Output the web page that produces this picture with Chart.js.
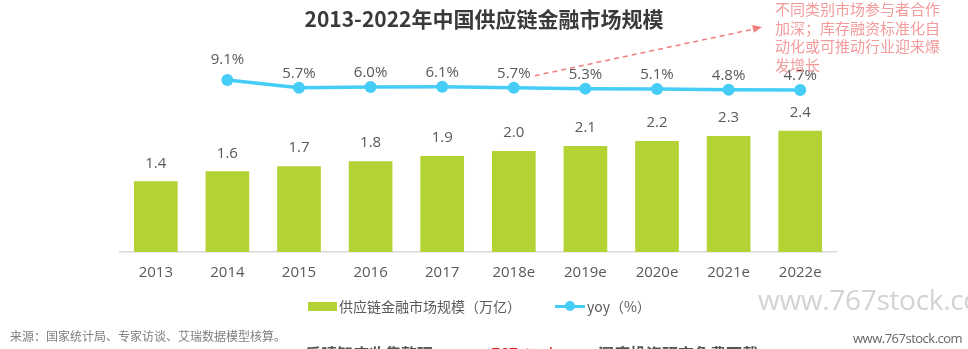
<!DOCTYPE html>
<html>
<head>
<meta charset="utf-8">
<script src="https://cdn.jsdelivr.net/npm/chart.js@4.4.1/dist/chart.umd.min.js"></script>
<style>
  body { margin: 0; width: 968px; height: 349px; overflow: hidden; background: #fff; position: relative;
         font-family: "Open Sans", "Noto Sans CJK SC", sans-serif; }
  #chart { position: absolute; left: 0; top: 0; }
  .abs { position: absolute; white-space: nowrap; }
  #title { left: 0; width: 968px; top: 4px; text-align: center; font-size: 21px; font-weight: bold; color: #3a3a3a;
           font-family: "Noto Sans CJK SC", sans-serif; line-height: 28px; }
  #note { left: 775px; top: 0px; font-size: 15px; line-height: 18.5px; color: #f39b9b; white-space: normal; width: 175px;
          font-family: "Noto Sans CJK SC", sans-serif; }
  .legend { top: 296px; font-size: 14px; color: #595959; line-height: 20px; font-family: "Noto Sans CJK SC", sans-serif; }
  #source { left: 10px; top: 327px; font-size: 12px; color: #7f7f7f; font-family: "Noto Sans CJK SC", sans-serif; }
  #wm1 { left: 758px; top: 280px; font-size: 28px; color: #d3d3d3; font-family: "Open Sans", sans-serif; letter-spacing: -0.3px; }
  #wm2 { left: 853px; top: 329px; font-size: 13px; color: #666; font-family: "Open Sans", sans-serif; letter-spacing: -0.5px; }
  #foot { left: 305px; top: 341px; font-size: 16px; font-weight: bold; color: #555; font-family: "Noto Sans CJK SC", sans-serif; }
  #foot span { color: #e02020; font-weight: normal; }
</style>
</head>
<body>
<canvas id="chart" width="968" height="349"></canvas>
<div id="title" class="abs">2013-2022年中国供应链金融市场规模</div>
<div id="note" class="abs">不同类别市场参与者合作加深；库存融资标准化自动化或可推动行业迎来爆发增长</div>

<div class="abs" style="left:308px;top:302px;width:29px;height:9px;background:#b3d334;"></div>
<div class="abs legend" style="left:339px;">供应链金融市场规模（万亿）</div>
<div class="abs" style="left:555px;top:304.5px;width:30px;height:3px;background:#45cdf7;"></div>
<div class="abs" style="left:565px;top:301px;width:10px;height:10px;border-radius:50%;background:#45cdf7;"></div>
<div class="abs legend" style="left:587px;">yoy（%）</div>

<div id="source" class="abs">来源：国家统计局、专家访谈、艾瑞数据模型核算。</div>
<div id="wm1" class="abs">www.767stock.com</div>
<div id="wm2" class="abs">www.767stock.com</div>
<div id="foot" class="abs">乐晴智库收集整理：<span>www.767stock.com</span> 深度投资研究免费下载</div>

<script>
// =========================
// données
// =========================
const years = ["2013", "2014", "2015", "2016", "2017", "2018e", "2019e", "2020e", "2021e", "2022e"];
const marketSize = [1.4, 1.6, 1.7, 1.8, 1.9, 2.0, 2.1, 2.2, 2.3, 2.4];
const yoy = [null, 9.1, 5.7, 6.0, 6.1, 5.7, 5.3, 5.1, 4.8, 4.7];

const GREEN = "#b3d334";
const BLUE = "#45cdf7";
const LABEL = "#595959";

// étiquettes de valeurs + flèche d'annotation
const labelsPlugin = {
  id: "valueLabels",
  afterDatasetsDraw(chart) {
    const ctx = chart.ctx;
    ctx.save();
    ctx.font = '15px "Open Sans", sans-serif';
    ctx.fillStyle = LABEL;
    ctx.textAlign = "center";
    ctx.textBaseline = "middle";

    chart.getDatasetMeta(0).data.forEach((bar, i) => {
      ctx.fillText(marketSize[i].toFixed(1), bar.x, bar.y - 18);
    });

    const lineMeta = chart.getDatasetMeta(1);
    lineMeta.data.forEach((pt, i) => {
      if (yoy[i] == null) return;
      const off = i === 1 ? 20 : 14;
      ctx.fillText(yoy[i].toFixed(1) + "%", pt.x, pt.y - off);
    });

    // flèche pointillée vers la note
    const anchor = lineMeta.data[5];
    const x0 = anchor.x + 21, y0 = anchor.y - 12;
    const x1 = 762, y1 = 27;
    ctx.strokeStyle = "#ef7f7f";
    ctx.fillStyle = "#ef7f7f";
    ctx.lineWidth = 1.5;
    ctx.setLineDash([5, 4]);
    ctx.beginPath();
    ctx.moveTo(x0, y0);
    ctx.lineTo(x1 - 8, y1 + 2);
    ctx.stroke();
    ctx.setLineDash([]);
    const ang = Math.atan2(y1 - y0, x1 - x0);
    ctx.beginPath();
    ctx.moveTo(x1, y1);
    ctx.lineTo(x1 - 10 * Math.cos(ang - 0.4), y1 - 10 * Math.sin(ang - 0.4));
    ctx.lineTo(x1 - 10 * Math.cos(ang + 0.4), y1 - 10 * Math.sin(ang + 0.4));
    ctx.closePath();
    ctx.fill();
    ctx.restore();
  },
};

new Chart(document.getElementById("chart"), {
  data: {
    labels: years,
    datasets: [
      {
        type: "bar",
        label: "供应链金融市场规模（万亿）",
        data: marketSize,
        backgroundColor: GREEN,
        barPercentage: 0.61,
        categoryPercentage: 1,
        yAxisID: "y",
        order: 2,
      },
      {
        type: "line",
        label: "yoy（%）",
        data: yoy,
        borderColor: BLUE,
        backgroundColor: BLUE,
        borderWidth: 3.5,
        pointRadius: 6,
        pointBackgroundColor: BLUE,
        pointBorderWidth: 0,
        tension: 0,
        yAxisID: "y1",
        order: 1,
      },
    ],
  },
  plugins: [labelsPlugin],
  options: {
    responsive: false,
    animation: false,
    layout: { padding: { left: 120, right: 132, top: 40, bottom: 0 } },
    plugins: { legend: { display: false }, tooltip: { enabled: false } },
    scales: {
      x: {
        grid: { display: false, drawTicks: false },
        border: { display: true, color: "#d9d9d9", width: 1.5 },
        ticks: { color: LABEL, font: { size: 15, family: '"Open Sans", sans-serif' }, padding: 12 },
        afterFit: (scale) => { scale.height = 97; },
      },
      y: { display: false, min: 0, max: 4.2 },
      y1: { display: false, min: -66.6, max: 26.7 },
    },
  },
});
</script>
</body>
</html>
